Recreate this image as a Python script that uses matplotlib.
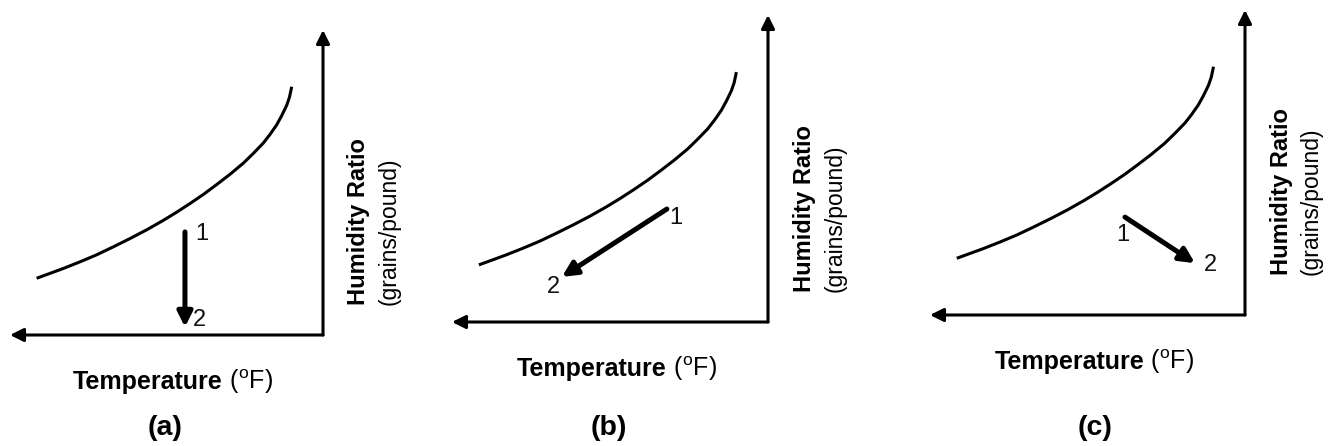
import matplotlib
matplotlib.use("Agg")
import matplotlib.pyplot as plt

plt.rcParams['font.family'] = ['Liberation Sans', 'DejaVu Sans']
plt.rcParams['mathtext.fontset'] = 'custom'
plt.rcParams['mathtext.rm'] = 'Liberation Sans'

# saturation curve (same shape in every panel)
# units: percent of the drawn axis length
curve_temp = [8.5, 11.7, 17.0, 22.4, 27.7, 33.0, 38.3, 43.7, 49.0, 53.3, 57.5, 61.8,
              66.0, 70.3, 74.5, 77.7, 80.9, 83.1, 85.2, 86.8, 88.4, 89.3, 90.0]
curve_hum = [18.6, 19.8, 21.8, 24.0, 26.3, 28.9, 31.6, 34.5, 37.6, 40.3, 43.1, 46.1,
             49.3, 52.7, 56.3, 59.5, 62.9, 65.8, 68.9, 71.9, 75.3, 78.0, 81.4]

# process start (1) and end (2) states per panel
panel_names = ['(a)', '(b)', '(c)']
start_temp = [55.9, 68.0, 61.9]
start_hum = [33.8, 36.8, 32.1]
end_temp = [55.9, 34.8, 84.1]
end_hum = [2.6, 14.7, 17.0]

# where the state numbers sit
lab1_temp = [61.3, 70.9, 61.3]
lab1_hum = [33.1, 33.9, 26.2]
lab2_temp = [60.4, 32.0, 88.9]
lab2_hum = [4.9, 11.4, 16.4]

W, H = 1333, 446
fig = plt.figure(figsize=(W / 100, H / 100), dpi=100)

# axis boxes in pixels: left, top, right, bottom
boxes = [(10, 30, 323, 335), (452, 15, 768, 322), (930, 10, 1245, 315)]
hum_label_start = [0.098, 0.098, 0.13]
panel_tag_x = [165, 609, 1095]

for i, (l, t, r, b) in enumerate(boxes):
    ax = fig.add_axes([l / W, (H - b) / H, (r - l) / W, (b - t) / H])
    ax.set_xlim(0, 100)
    ax.set_ylim(0, 100)
    ax.axis('off')

    # axes drawn as arrows out of the bottom-right corner
    axis_arrow = dict(arrowstyle='-|>', lw=2.2, color='black',
                      mutation_scale=20, shrinkA=0, shrinkB=0)
    ax.annotate('', xy=(0, 0), xytext=(100, 0), arrowprops=axis_arrow,
                annotation_clip=False)
    ax.annotate('', xy=(100, 100), xytext=(100, 0), arrowprops=axis_arrow,
                annotation_clip=False)

    ax.plot(curve_temp, curve_hum, color='black', lw=2.2,
            solid_capstyle='butt', solid_joinstyle='round', clip_on=False)

    # the process
    ax.annotate('', xy=(end_temp[i], end_hum[i]),
                xytext=(start_temp[i], start_hum[i]),
                arrowprops=dict(arrowstyle='-|>', lw=3.6, color='black',
                                mutation_scale=22, shrinkA=0, shrinkB=0),
                annotation_clip=False)
    ax.text(lab1_temp[i], lab1_hum[i], '1', fontsize=17,
            ha='center', va='center', color='#111111')
    ax.text(lab2_temp[i], lab2_hum[i], '2', fontsize=17,
            ha='center', va='center', color='#111111')

    # axis titles
    ax.text(0.68, -0.176, 'Temperature', transform=ax.transAxes,
            fontsize=18, fontweight='bold', ha='right', va='baseline',
            clip_on=False)
    ax.text(0.68, -0.176, r' ($^{\mathrm{o}}$F)', transform=ax.transAxes,
            fontsize=18, ha='left', va='baseline', clip_on=False)
    ax.text(1.115, hum_label_start[i], 'Humidity Ratio', transform=ax.transAxes,
            fontsize=17, fontweight='bold', rotation=90, rotation_mode='anchor',
            ha='left', va='center', clip_on=False)
    ax.text(1.211, hum_label_start[i], '(grains/pound)', transform=ax.transAxes,
            fontsize=16.5, rotation=90, rotation_mode='anchor',
            ha='left', va='center', clip_on=False)

    fig.text(panel_tag_x[i] / W, (H - 428) / H, panel_names[i],
             fontsize=20.5, fontweight='bold', ha='center', va='center')

fig.savefig('out.png', dpi=100, facecolor='white')
